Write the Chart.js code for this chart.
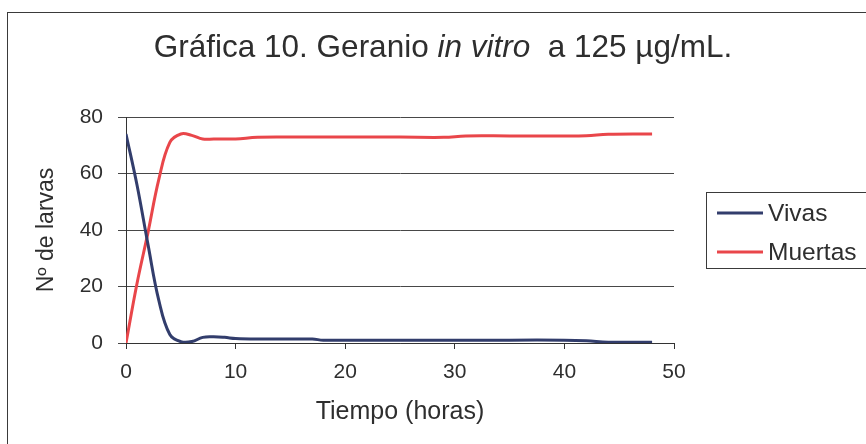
<!DOCTYPE html>
<html>
<head>
<meta charset="utf-8">
<script src="https://cdn.jsdelivr.net/npm/chart.js@4.4.1/dist/chart.umd.min.js"></script>
<style>
  html, body { margin: 0; padding: 0; background: #ffffff; }
  #wrap { width: 866px; height: 444px; position: relative; }
</style>
</head>
<body>
<div id="wrap"><canvas id="c" width="866" height="444"></canvas></div>
<script>
// ---- data ----
const tiempo  = [0, 1, 2, 3, 4, 5, 6, 7, 8, 9, 10, 12, 15, 17, 18, 20, 25, 29, 31, 35, 40, 42, 44, 48];
const vivas   = [74, 56, 35, 15, 3, 0.5, 0.5, 2, 2.2, 2, 1.6, 1.4, 1.4, 1.4, 1, 1, 1, 1, 1, 1, 1, 0.8, 0.3, 0.3];
const muertas = [0, 21, 39, 58, 71, 74, 73.5, 72.2, 72.2, 72.2, 72.2, 72.8, 72.9, 72.9, 72.9, 72.9, 72.9, 72.8, 73.3, 73.3, 73.3, 73.4, 73.9, 74];
const seriesNames = ['Vivas', 'Muertas'];
const xTicks = { min: 0, max: 50, step: 10 };
const yTicks = { min: 0, max: 80, step: 20 };
const titleParts = [
  { text: 'Gráfica 10. Geranio ', italic: false },
  { text: 'in vitro', italic: true },
  { text: '  a 125 µg/mL.', italic: false }
];
const xTitle = 'Tiempo (horas)';
const yTitle = 'Nº de larvas';

const FONT = '"Liberation Sans", Arial, sans-serif';
const TXT = '#2e2e2e';
const BLUE = '#323d6c';
const RED = '#e9464a';

const toPts = arr => tiempo.map((t, i) => ({ x: t, y: arr[i] }));

const decor = {
  id: 'decor',
  afterDraw(chart) {
    const ctx = chart.ctx;
    ctx.save();
    // outer frame
    ctx.strokeStyle = '#3a3a3a';
    ctx.lineWidth = 1;
    ctx.strokeRect(7.5, 12.5, 900, 500);
    // title with mixed styles
    const size = 31.5;
    let total = 0;
    titleParts.forEach(p => {
      ctx.font = (p.italic ? 'italic ' : '') + size + 'px ' + FONT;
      p.w = ctx.measureText(p.text).width;
      total += p.w;
    });
    let x = 443 - total / 2;
    ctx.fillStyle = TXT;
    ctx.textBaseline = 'alphabetic';
    ctx.textAlign = 'left';
    titleParts.forEach(p => {
      ctx.font = (p.italic ? 'italic ' : '') + size + 'px ' + FONT;
      ctx.fillText(p.text, x, 57);
      x += p.w;
    });
    // legend
    ctx.strokeStyle = '#3a3a3a';
    ctx.lineWidth = 1;
    ctx.strokeRect(706.5, 192.5, 200, 76);
    const ds = chart.data.datasets;
    const rows = [213, 252];
    ds.forEach((d, i) => {
      ctx.strokeStyle = d.borderColor;
      ctx.lineWidth = 3;
      ctx.beginPath();
      ctx.moveTo(717, rows[i]);
      ctx.lineTo(763, rows[i]);
      ctx.stroke();
      ctx.fillStyle = TXT;
      ctx.font = '24.5px ' + FONT;
      ctx.textBaseline = 'middle';
      ctx.fillText(d.label, 768, rows[i] + 1);
    });
    ctx.restore();
  }
};

new Chart(document.getElementById('c'), {
  type: 'line',
  data: {
    datasets: [
      { label: seriesNames[0], data: toPts(vivas), borderColor: BLUE, backgroundColor: BLUE, borderWidth: 3, pointRadius: 0, tension: 0.4, fill: false },
      { label: seriesNames[1], data: toPts(muertas), borderColor: RED, backgroundColor: RED, borderWidth: 3, pointRadius: 0, tension: 0.4, fill: false }
    ]
  },
  options: {
    responsive: false,
    animation: false,
    devicePixelRatio: 1,
    layout: { padding: { left: 0, top: 117, right: 192, bottom: 0 } },
    plugins: { legend: { display: false }, title: { display: false }, tooltip: { enabled: false } },
    scales: {
      x: {
        type: 'linear',
        min: xTicks.min, max: xTicks.max,
        ticks: { stepSize: xTicks.step, color: TXT, font: { family: FONT, size: 21 }, padding: 11, maxRotation: 0 },
        grid: { drawOnChartArea: false, drawTicks: true, tickLength: 6, color: '#333' },
        border: { display: true, color: '#333', width: 1 },
        title: { display: true, text: xTitle, color: TXT, font: { family: FONT, size: 25 }, padding: { top: 0, bottom: 17 } },
        afterFit(s) { s.height = 444 - 343; }
      },
      y: {
        min: yTicks.min, max: yTicks.max,
        ticks: { stepSize: yTicks.step, color: TXT, font: { family: FONT, size: 21 }, padding: 15 },
        grid: { color: '#474747', lineWidth: 1, drawTicks: true, tickLength: 8 },
        border: { display: true, color: '#333', width: 1 },
        title: { display: true, text: yTitle, color: TXT, font: { family: FONT, size: 23 }, padding: { top: 33, bottom: 0 } },
        afterFit(s) { s.width = 126; }
      }
    }
  },
  plugins: [decor]
});
</script>
</body>
</html>
